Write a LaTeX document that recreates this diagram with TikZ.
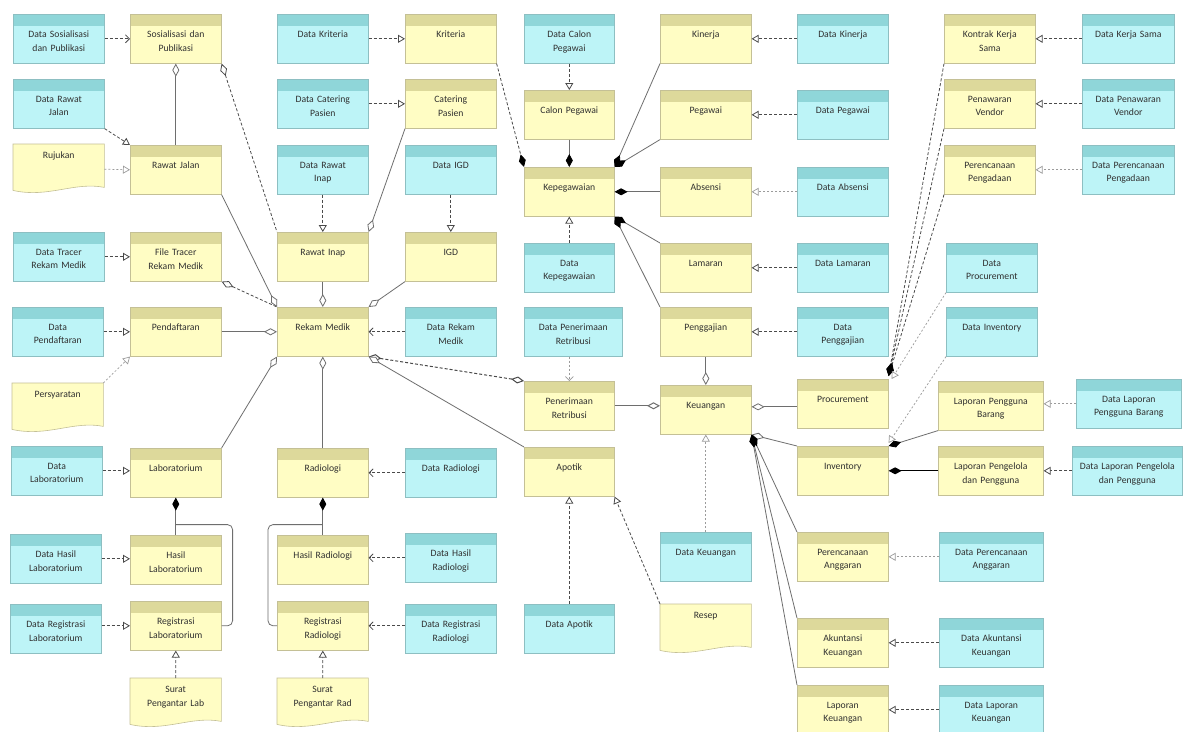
\documentclass[tikz,border=0pt]{standalone}
\usepackage{fontspec}
\setmainfont{Carlito}
\usetikzlibrary{arrows.meta,calc}
\definecolor{yfill}{HTML}{FFFDC4}
\definecolor{yhead}{HTML}{DDD99B}
\definecolor{ybord}{HTML}{C4C096}
\definecolor{cfill}{HTML}{BDF4F7}
\definecolor{chead}{HTML}{8FD6D9}
\definecolor{cbord}{HTML}{8DBFC2}
\definecolor{solc}{HTML}{6E6E6E}
\definecolor{dshc}{HTML}{4A4A4A}
\definecolor{txtc}{HTML}{303030}
\tikzset{
  tri/.tip={Triangle[length=7pt,width=8pt,fill=white]},
  barb/.tip={Straight Barb[length=4pt,width=8pt]},
  odia/.tip={Diamond[length=13pt,width=7pt,fill=white]},
  fdia/.tip={Diamond[length=13pt,width=7pt,color=black]},
  basebox/.style={anchor=north west, inner sep=0pt, minimum height=49pt, line width=0.6pt},
  ybox/.style={basebox, draw=ybord, fill=yfill,
    path picture={\fill[yhead] (path picture bounding box.north west) rectangle ([yshift=-12pt]path picture bounding box.north east);}},
  cbox/.style={basebox, draw=cbord, fill=cfill,
    path picture={\fill[chead] (path picture bounding box.north west) rectangle ([yshift=-12pt]path picture bounding box.north east);}},
  lbl/.style={anchor=north, inner sep=0pt, align=center, font=\fontsize{9.7}{13.5}\selectfont, text=txtc},
  docst/.style={draw=ybord, fill=yfill, line width=0.6pt},
  sol/.style={draw=solc, line width=0.8pt},
  dsh/.style={draw=dshc, line width=0.8pt, dash pattern=on 3pt off 2pt},
  dshl/.style={draw=dshc!55, line width=0.7pt, dash pattern=on 2pt off 2pt},
}
\newcommand\mkbox[6]{%
  \node[#1, minimum width=#5pt] (#2) at (#3,#4) {};
  \node[lbl, text width=#5pt] (#2-t) at ([yshift=-17pt]#2.north) {#6};
}
\newcommand\mkdoc[5]{%
  \node[anchor=north west, inner sep=0pt, minimum width=#4pt, minimum height=50pt] (#1) at (#2,#3) {};
  \path[docst] (#1.north west) -- (#1.north east) -- ([yshift=7pt]#1.south east)
    .. controls ([xshift=-30pt,yshift=13pt]#1.south east) and ([xshift=35pt,yshift=-4pt]#1.south west) ..
    ([yshift=4pt]#1.south west) -- cycle;
  \node[lbl, text width=#4pt] (#1-t) at ([yshift=-8pt]#1.north) {#5};
}
\begin{document}
\begin{tikzpicture}[x=1pt,y=-1pt]
\useasboundingbox (0,0) rectangle (1186,731);
\fill[white] (0,0) rectangle (1186,731);

% column 1
\mkbox{cbox}{dSos}{13}{14}{91}{Data Sosialisasi\\dan Publikasi}
\mkbox{cbox}{dRJ}{13}{79}{91}{Data Rawat\\Jalan}
\mkdoc{rujukan}{13}{144}{91}{Rujukan}
\mkbox{cbox}{dTracer}{13}{232}{91}{Data Tracer\\Rekam Medik}
\mkbox{cbox}{dDaftar}{12}{307}{91}{Data\\Pendaftaran}
\mkdoc{persyaratan}{12}{383}{91}{Persyaratan}
\mkbox{cbox}{dLab}{11}{446}{91}{Data\\Laboratorium}
\mkbox{cbox}{dHasilLab}{10}{534}{91}{Data Hasil\\Laboratorium}
\mkbox{cbox}{dRegLab}{10}{604}{91}{Data Registrasi\\Laboratorium}

% column 2
\mkbox{ybox}{sos}{130}{14}{91}{Sosialisasi dan\\Publikasi}
\mkbox{ybox}{rj}{130}{145}{91}{Rawat Jalan}
\mkbox{ybox}{tracer}{130}{232}{91}{File Tracer\\Rekam Medik}
\mkbox{ybox}{daftar}{130}{307}{91}{Pendaftaran}
\mkbox{ybox}{lab}{130}{448}{91}{Laboratorium}
\mkbox{ybox}{hasilLab}{130}{535}{91}{Hasil\\Laboratorium}
\mkbox{ybox}{regLab}{130}{601}{91}{Registrasi\\Laboratorium}
\mkdoc{suratLab}{130}{678}{91}{Surat\\Pengantar Lab}

% column 3
\mkbox{cbox}{dKriteria}{277}{14}{91}{Data Kriteria}
\mkbox{cbox}{dCatering}{277}{79}{91}{Data Catering\\Pasien}
\mkbox{cbox}{dRI}{277}{145}{91}{Data Rawat\\Inap}
\mkbox{ybox}{ri}{277}{232}{91}{Rawat Inap}
\mkbox{ybox}{rm}{277}{307}{91}{Rekam Medik}
\mkbox{ybox}{rad}{277}{448}{91}{Radiologi}
\mkbox{ybox}{hasilRad}{277}{535}{91}{Hasil Radiologi}
\mkbox{ybox}{regRad}{277}{601}{91}{Registrasi\\Radiologi}
\mkdoc{suratRad}{277}{678}{91}{Surat\\Pengantar Rad}

% column 4
\mkbox{ybox}{kriteria}{405}{14}{91}{Kriteria}
\mkbox{ybox}{catering}{405}{79}{91}{Catering\\Pasien}
\mkbox{cbox}{dIGD}{405}{145}{91}{Data IGD}
\mkbox{ybox}{igd}{405}{232}{91}{IGD}
\mkbox{cbox}{dRM}{405}{307}{91}{Data Rekam\\Medik}
\mkbox{cbox}{dRad}{405}{448}{91}{Data Radiologi}
\mkbox{cbox}{dHasilRad}{405}{533}{91}{Data Hasil\\Radiologi}
\mkbox{cbox}{dRegRad}{405}{604}{91}{Data Registrasi\\Radiologi}

% column 5
\mkbox{cbox}{dCalon}{524}{14}{90}{Data Calon\\Pegawai}
\mkbox{ybox}{calon}{524}{90}{90}{Calon Pegawai}
\mkbox{ybox}{kepeg}{524}{167}{90}{Kepegawaian}
\mkbox{cbox}{dKepeg}{524}{243}{90}{Data\\Kepegawaian}
\mkbox{cbox}{dRetribusi}{524}{307}{98}{Data Penerimaan\\Retribusi}
\mkbox{ybox}{retribusi}{524}{381}{90}{Penerimaan\\Retribusi}
\mkbox{ybox}{apotik}{524}{447}{90}{Apotik}
\mkbox{cbox}{dApotik}{524}{604}{90}{Data Apotik}

% column 6
\mkbox{ybox}{kinerja}{660}{14}{91}{Kinerja}
\mkbox{ybox}{pegawai}{660}{90}{91}{Pegawai}
\mkbox{ybox}{absensi}{660}{167}{91}{Absensi}
\mkbox{ybox}{lamaran}{660}{243}{91}{Lamaran}
\mkbox{ybox}{gaji}{660}{307}{91}{Penggajian}
\mkbox{ybox}{keu}{660}{385}{91}{Keuangan}
\mkbox{cbox}{dKeu}{660}{532}{91}{Data Keuangan}
\mkdoc{resep}{660}{604}{91}{Resep}

% column 7
\mkbox{cbox}{dKinerja}{797}{14}{91}{Data Kinerja}
\mkbox{cbox}{dPegawai}{797}{90}{91}{Data Pegawai}
\mkbox{cbox}{dAbsensi}{797}{167}{91}{Data Absensi}
\mkbox{cbox}{dLamaran}{797}{243}{91}{Data Lamaran}
\mkbox{cbox}{dGaji}{797}{307}{91}{Data\\Penggajian}
\mkbox{ybox}{proc}{797}{379}{91}{Procurement}
\mkbox{ybox}{inv}{797}{446}{91}{Inventory}
\mkbox{ybox}{anggaran}{797}{532}{91}{Perencanaan\\Anggaran}
\mkbox{ybox}{akuntansi}{797}{618}{91}{Akuntansi\\Keuangan}
\mkbox{ybox}{lapKeu}{797}{685}{91}{Laporan\\Keuangan}

% column 8
\mkbox{ybox}{kontrak}{944}{14}{91}{Kontrak Kerja\\Sama}
\mkbox{ybox}{penawaran}{944}{79}{91}{Penawaran\\Vendor}
\mkbox{ybox}{pengadaan}{944}{145}{91}{Perencanaan\\Pengadaan}
\mkbox{cbox}{dProc}{946}{243}{91}{Data\\Procurement}
\mkbox{cbox}{dInv}{946}{307}{91}{Data Inventory}
\mkbox{ybox}{lapBarang}{938}{381}{105}{Laporan Pengguna\\Barang}
\mkbox{ybox}{lapPengelola}{938}{446}{105}{Laporan Pengelola\\dan Pengguna}
\mkbox{cbox}{dAnggaran}{939}{532}{104}{Data Perencanaan\\Anggaran}
\mkbox{cbox}{dAkuntansi}{939}{618}{104}{Data Akuntansi\\Keuangan}
\mkbox{cbox}{dLapKeu}{939}{685}{104}{Data Laporan\\Keuangan}

% column 9
\mkbox{cbox}{dKerjasama}{1082}{14}{92}{Data Kerja Sama}
\mkbox{cbox}{dPenawaran}{1082}{79}{92}{Data Penawaran\\Vendor}
\mkbox{cbox}{dPengadaan}{1082}{145}{92}{Data Perencanaan\\Pengadaan}
\mkbox{cbox}{dLapBarang}{1076}{379}{105}{Data Laporan\\Pengguna Barang}
\mkbox{cbox}{dLapPengelola}{1072}{446}{110}{Data Laporan Pengelola\\dan Pengguna}

% ---- connectors: left part
\draw[dsh,-barb] (dSos.east) -- (sos.west);
\draw[dsh,-tri] (dRJ.south east) -- (rj.north west);
\draw[dshl,-tri] (rujukan.east) -- (rj.west);
\draw[sol,odia-] (sos.south) -- (rj.north);
\draw[dsh,odia-] (sos.south east) -- (ri.north west);
\draw[dsh,-tri] (dTracer.east) -- (tracer.west);
\draw[dsh,-tri] (dDaftar.east) -- (daftar.west);
\draw[dshl,-tri] (persyaratan.north east) -- (daftar.south west);
\draw[dsh,-tri] (dLab.east) -- (dLab.east -| lab.west);
\draw[sol,fdia-] (lab.south) -- (hasilLab.north);
\coordinate (labj) at ([yshift=-27pt]lab.south);
\draw[sol,rounded corners=5pt] (regLab.east) -- ++(11,0) |- (labj);
\draw[dsh,-tri] (dHasilLab.east) -- (dHasilLab.east -| hasilLab.west);
\draw[dsh,-tri] (regLab.west -| dRegLab.east) -- (regLab.west);
\draw[dsh,-tri] (suratLab.north) -- (regLab.south);

% Rekam Medik hub
\draw[dsh,-tri] (dKriteria.east) -- (kriteria.west);
\draw[dsh,-tri] (dCatering.east) -- (catering.west);
\draw[dsh,-tri] (dRI.south) -- (ri.north);
\draw[sol,-odia] (catering.south west) -- (ri.north east);
\draw[dsh,-tri] (dIGD.south) -- (igd.north);
\draw[sol,-odia] (ri.south) -- (rm.north);
\draw[sol,-odia] (igd.south west) -- (rm.north east);
\draw[dsh,-barb] (dRM.west) -- (rm.east);
\draw[sol,-odia] (daftar.east) -- (rm.west);
\draw[dsh,odia-] (tracer.south east) -- (rm.north west);
\draw[sol,-odia] (rj.south east) -- (rm.north west);
\draw[sol,-odia] (lab.north east) -- (rm.south west);
\draw[sol,-odia] (rad.north) -- (rm.south);
\draw[dsh,line width=1pt,odia-odia] (rm.south east) -- (retribusi.north west);
\draw[sol,odia-] (rm.south east) -- (apotik.north west);

% radiologi
\draw[dsh,-barb] (dRad.west) -- (rad.east);
\draw[sol,fdia-] (rad.south) -- (hasilRad.north);
\coordinate (radj) at ([yshift=-27pt]rad.south);
\draw[sol,rounded corners=5pt] (regRad.west) -- ++(-9,0) |- (radj);
\draw[dsh,-barb] (dHasilRad.west) -- (dHasilRad.west -| hasilRad.east);
\draw[dsh,-barb] (regRad.east -| dRegRad.west) -- (regRad.east);
\draw[dsh,-tri] (suratRad.north) -- (regRad.south);

% kepegawaian
\draw[dsh,-fdia] (kriteria.south east) -- (kepeg.north west);
\draw[dsh,-tri] (dCalon.south) -- (calon.north);
\draw[sol,-fdia] (calon.south) -- (kepeg.north);
\draw[sol,-fdia] (kinerja.south west) -- (kepeg.north east);
\draw[sol,-fdia] (pegawai.south west) -- (kepeg.north east);
\draw[sol,-fdia] (absensi.west) -- (kepeg.east);
\draw[sol,-fdia] (lamaran.north west) -- (kepeg.south east);
\draw[sol,-fdia] (gaji.north west) -- (kepeg.south east);
\draw[dsh,-tri] (dKepeg.north) -- (kepeg.south);
\draw[dsh,-tri] (dKinerja.west) -- (kinerja.east);
\draw[dsh,-tri] (dPegawai.west) -- (pegawai.east);
\draw[dshl,-tri] (dAbsensi.west) -- (absensi.east);
\draw[dsh,-tri] (dLamaran.west) -- (lamaran.east);
\draw[dsh,-tri] (dGaji.west) -- (gaji.east);

% keuangan
\draw[sol,-odia] (gaji.south) -- (keu.north);
\draw[sol,line width=1pt,-odia] (retribusi.east) -- (retribusi.east -| keu.west);
\draw[dshl,-barb] (retribusi.north |- dRetribusi.south) -- (retribusi.north);
\draw[dsh,-tri] (dApotik.north) -- (apotik.south);
\draw[dsh,-tri] (resep.north west) -- (apotik.south east);
\draw[dshl,-tri] (dKeu.north) -- (keu.south);
\draw[sol,odia-] ([yshift=3pt]keu.east) -- ([yshift=3pt]keu.east -| proc.west);
\draw[sol,odia-] (keu.south east) -- (inv.north west);
\draw[sol,fdia-] (keu.south east) -- (anggaran.north west);
\draw[sol,fdia-] (keu.south east) -- (akuntansi.north west);
\draw[sol,fdia-] (keu.south east) -- (lapKeu.north west);
\draw[dshl,-tri] (dAnggaran.west) -- (anggaran.east);
\draw[dsh,-tri] (dAkuntansi.west) -- (akuntansi.east);
\draw[dsh,-tri] (dLapKeu.west) -- (lapKeu.east);

% procurement / inventory
\draw[dsh,-fdia] (kontrak.south west) -- ([yshift=3pt]proc.north east);
\draw[dsh,-fdia] (penawaran.south west) -- ([yshift=3pt]proc.north east);
\draw[dsh,-fdia] (pengadaan.south west) -- ([yshift=3pt]proc.north east);
\draw[dshl,-tri] (dProc.south west) -- ([xshift=3pt]proc.north east);
\draw[dsh,-tri] (dKerjasama.west) -- (kontrak.east);
\draw[dsh,-tri] (dPenawaran.west) -- (penawaran.east);
\draw[dshl,-tri] (dPengadaan.west) -- (pengadaan.east);
\draw[dshl,-tri] (dInv.south west) -- ([yshift=3pt]inv.north east);
\draw[sol,-fdia] (lapBarang.south west) -- (inv.north east);
\draw[draw=black,line width=1.3pt,-fdia] (lapPengelola.west) -- (inv.east);
\draw[dshl,-tri] (dLapBarang.west) -- (dLapBarang.west -| lapBarang.east);
\draw[dsh,-tri] (dLapPengelola.west) -- (lapPengelola.east);
\end{tikzpicture}
\end{document}
